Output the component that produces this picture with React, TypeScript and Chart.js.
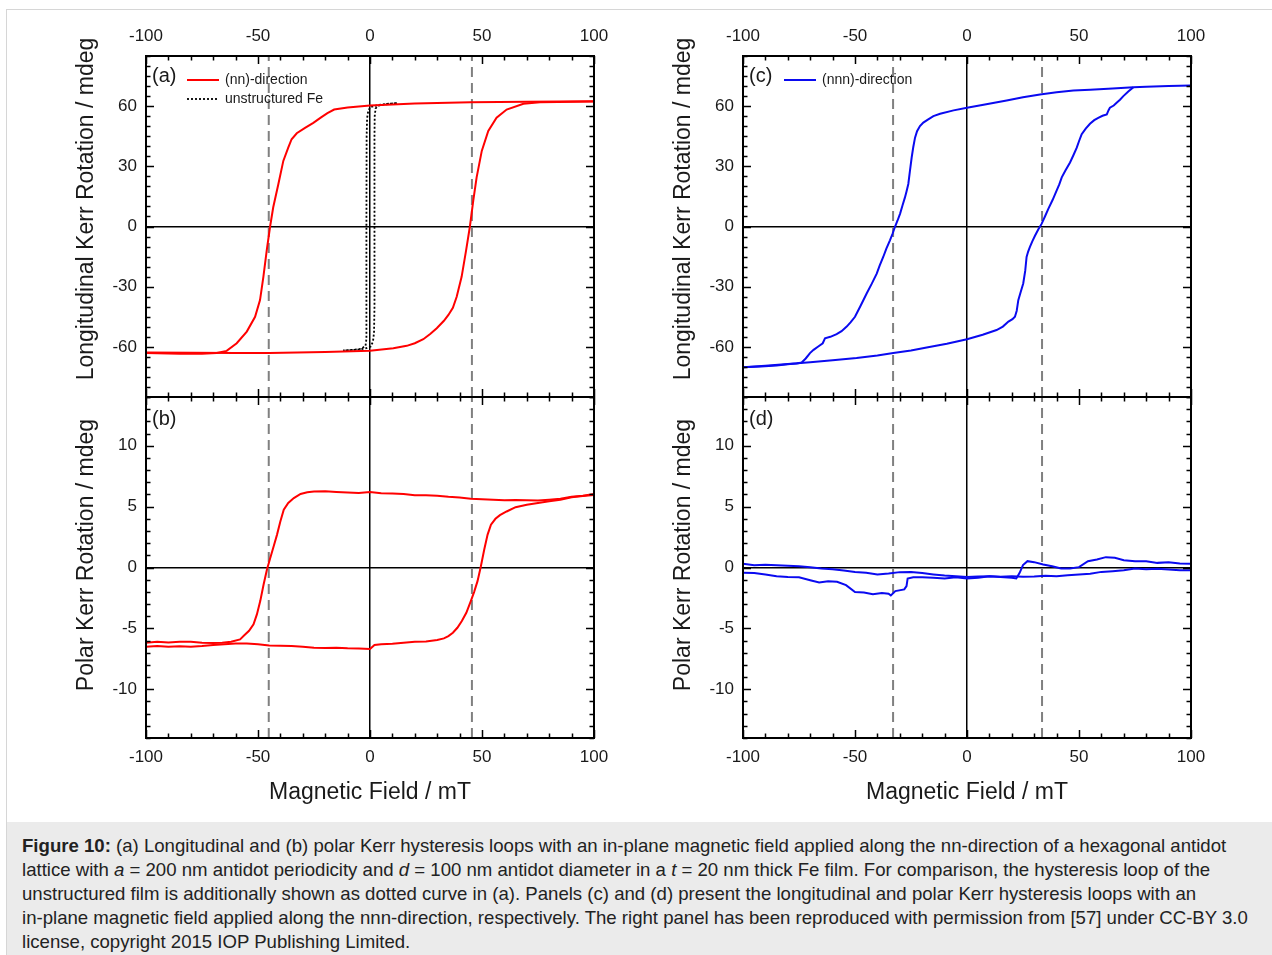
import React, { useEffect, useRef } from 'react';
import { Chart, registerables } from 'chart.js';
Chart.register(...registerables);

const FONT = "'Liberation Sans', Arial, Helvetica, sans-serif";
Chart.defaults.font.family = FONT;

// ---------- Axis / tick settings ----------
const X_MIN = -100;
const X_MAX = 100;
const X_MINOR = 10;
const X_MAJOR = 50;
const LONG_RANGE = [-85, 85];
const LONG_MINOR = 5;
const LONG_MAJOR = 30;
const POLAR_RANGE = [-14, 14];
const POLAR_MINOR = 1;
const POLAR_MAJOR = 5;

// coercive-field guide lines (mT)
const NN_GUIDES = [-45.2, 45.5];
const NNN_GUIDES = [-33.0, 33.5];

// ---------- (a) longitudinal, nn-direction ----------
const A_DOWN_X = [100, 70, 45, 20, 0, -10, -16, -19, -22, -25.3, -29, -32.7, -35, -36.5, -38.7, -40.9, -43.2, -44.6, -46.1, -47.6, -49.1, -51.3, -55, -59.5, -64, -68.5, -75, -85, -100];
const A_DOWN_Y = [62.4, 62.2, 62, 61.3, 60.3, 59.3, 58.3, 56.5, 54.3, 51.7, 49.2, 46.5, 43.5, 39.3, 32.7, 21.2, 9.6, 0, -11.9, -25.1, -36.7, -45, -52.4, -58.2, -62, -63.1, -63.4, -63.4, -63.1];
const A_UP_X = [-100, -80, -60, -45, -20, 0, 10.4, 16.4, 20, 23.8, 27, 29.8, 33, 35, 37, 38.7, 40.9, 42.9, 44.6, 46.1, 47.6, 49.9, 52.8, 56.5, 61, 68.5, 75.9, 100];
const A_UP_Y = [-62.8, -63, -63.1, -63.1, -62.6, -62, -60.7, -59.5, -58.2, -56.2, -53.5, -50.7, -47, -44.1, -40.5, -35, -25.1, -11.9, 0, 12.9, 24.5, 37.7, 47.6, 54.2, 58.3, 61.2, 62, 62.3];
// unstructured Fe (dotted loop)
const FE_X = [12, 7, 3, 1, 0, -0.8, -1.3, -1.5, -1.6, -1.6, -1.6, -2, -4, -8, -12, -6, -2, 0.3, 1.3, 1.8, 2, 2, 2, 2.1, 2.5, 3.5, 6, 9, 12];
const FE_Y = [61.5, 61.1, 60.4, 59.8, 59.3, 57.5, 54, 45, 0, -45, -56, -59.5, -61, -61.5, -61.8, -61.4, -60.8, -59.8, -57.5, -53, -40, 0, 45, 55, 58.8, 60.2, 60.8, 61.2, 61.5];

// ---------- (b) polar, nn-direction ----------
const B_DOWN_X = [100, 95, 90, 85, 80, 75, 70, 65, 60, 55, 50, 45, 40, 35, 30, 25, 20, 15, 10, 5, 0, -5, -10, -15, -20, -25, -28, -31, -34, -36.5, -38.5, -40, -41.5, -43, -44.5, -46, -47.5, -49, -50.5, -52, -54, -56, -58, -62, -66, -70, -75, -80, -85, -90, -95, -100];
const B_DOWN_Y = [6.04, 5.9, 5.8, 5.65, 5.57, 5.5, 5.52, 5.55, 5.53, 5.56, 5.6, 5.65, 5.74, 5.8, 5.9, 5.93, 5.93, 6.04, 6.07, 6.1, 6.2, 6.12, 6.15, 6.2, 6.26, 6.25, 6.18, 6.04, 5.7, 5.3, 4.75, 3.8, 2.7, 1.75, 0.8, -0.16, -1.4, -2.76, -3.85, -4.67, -5.2, -5.55, -5.9, -6.1, -6.17, -6.2, -6.17, -6.1, -6.1, -6.15, -6.1, -6.17];
const B_UP_X = [-100, -95, -90, -85, -80, -75, -70, -65, -60, -55, -50, -45, -40, -35, -30, -25, -20, -15, -10, -5, 0, 2, 5, 10, 15, 20, 25, 30, 33, 35, 37, 39, 41, 43, 45, 46.5, 48, 49.5, 51, 52.5, 54, 56, 58, 61, 65, 70, 75, 80, 85, 90, 95, 100];
const B_UP_Y = [-6.5, -6.45, -6.5, -6.47, -6.5, -6.45, -6.37, -6.3, -6.25, -6.25, -6.3, -6.4, -6.42, -6.45, -6.5, -6.58, -6.6, -6.58, -6.64, -6.66, -6.7, -6.37, -6.3, -6.27, -6.17, -6.1, -6.07, -5.95, -5.82, -5.63, -5.36, -4.95, -4.4, -3.72, -2.76, -2.0, -1.12, 0.1, 1.48, 2.7, 3.52, 4.0, 4.3, 4.6, 4.95, 5.16, 5.3, 5.44, 5.57, 5.76, 5.87, 5.96];

// ---------- (c) longitudinal, nnn-direction ----------
const C_DOWN_X = [100, 90, 80, 74.3, 65, 55, 47.5, 40, 32.6, 25, 17.7, 8, 0, -6, -12, -15, -17.3, -19.5, -21, -22.3, -23.2, -24, -24.7, -25.5, -26.2, -27, -27.7, -28.8, -29.9, -31, -32.1, -33.2, -34.4, -36, -37.4, -39, -40.3, -42.5, -44.8, -47.5, -50, -52, -53.7, -56, -58.2, -61, -63.4, -64.4, -66.4, -68.5, -70.1, -72, -73.8, -76, -79, -85, -92, -100];
const C_DOWN_Y = [70.3, 70.1, 69.7, 69.4, 68.8, 68.2, 67.8, 66.9, 65.8, 64.4, 62.8, 60.8, 59.2, 57.9, 56.2, 55, 53.4, 51.8, 50.1, 47.5, 44.3, 39.5, 34.4, 27.5, 21.2, 17.5, 14.5, 10.5, 6.3, 3, 0, -3.5, -6.9, -11, -15.2, -19.5, -23.5, -28.5, -33.4, -39.5, -45, -47.8, -49.9, -52.2, -53.7, -55, -55.7, -58.2, -59.8, -61.5, -63.1, -65.8, -67.8, -68.3, -68.6, -69.3, -69.8, -70.2];
const C_UP_X = [-100, -90, -80, -70, -60, -49.3, -40, -32.9, -25, -18, -9, 0, 7, 13.2, 16, 18.5, 20.3, 21.4, 22.2, 22.9, 24, 25.1, 26, 26.6, 27.3, 28.1, 29.2, 30.4, 31.8, 33.3, 34.8, 36.3, 38.2, 40, 41.2, 42.3, 44, 46, 47.5, 49, 50, 51.2, 53, 54.9, 56.8, 58.6, 60.5, 62.4, 63.2, 63.8, 65.5, 66.8, 68.3, 69.8, 72, 74.3];
const C_UP_Y = [-70.2, -69.4, -68.6, -67.7, -66.7, -65.6, -64.3, -63.1, -61.8, -60.3, -58.5, -56.2, -54, -51.6, -49.9, -47.4, -46.2, -45, -42, -36.7, -32.5, -28.4, -22, -15.2, -12.5, -10.2, -7.3, -4.5, -1.5, 1.3, 5, 8.8, 13.2, 17.9, 21, 24.5, 28, 31.9, 35.5, 39.3, 42.5, 46, 48.8, 51.2, 53, 54.2, 55.2, 55.9, 58, 59.2, 60.3, 61.7, 63.2, 65, 67.3, 69.4];

// ---------- (d) polar, nnn-direction ----------
const D_UP_X = [-100, -95, -90, -85, -80, -75, -70, -66, -62, -58, -54, -50, -46, -42, -38, -35, -34, -32, -28, -27, -26.5, -24, -20, -15, -10, -5, 0, 5, 10, 15, 20, 22, 23.5, 25, 27, 30, 34, 38, 42, 46, 50, 54, 58, 62, 66, 70, 75, 80, 85, 90, 95, 100];
const D_UP_Y = [-0.44, -0.46, -0.57, -0.71, -0.79, -0.8, -1.04, -1.23, -1.12, -1.17, -1.45, -2.02, -2.05, -2.2, -2.1, -2.15, -2.3, -1.94, -1.8, -1.53, -0.9, -0.8, -0.8, -0.85, -0.9, -0.8, -0.9, -0.85, -0.71, -0.79, -0.85, -0.9, -0.44, 0.2, 0.52, 0.44, 0.25, 0.1, -0.08, -0.08, 0.03, 0.52, 0.66, 0.85, 0.8, 0.6, 0.52, 0.52, 0.38, 0.43, 0.33, 0.3];
const D_DOWN_X = [100, 95, 90, 85, 80, 75, 70, 65, 60, 55, 50, 45, 40, 35, 30, 25, 20, 15, 10, 5, 0, -5, -10, -15, -20, -25, -30, -35, -40, -45, -50, -55, -60, -65, -70, -75, -80, -85, -90, -95, -100];
const D_DOWN_Y = [-0.22, -0.22, -0.16, -0.11, -0.14, -0.08, -0.22, -0.3, -0.36, -0.52, -0.57, -0.63, -0.71, -0.68, -0.74, -0.76, -0.71, -0.76, -0.71, -0.74, -0.79, -0.71, -0.66, -0.57, -0.46, -0.36, -0.38, -0.49, -0.57, -0.44, -0.36, -0.25, -0.14, -0.08, 0.03, 0.1, 0.14, 0.19, 0.22, 0.19, 0.3];

// ---------- text ----------
const LONG_TITLE = 'Longitudinal Kerr Rotation / mdeg';
const POLAR_TITLE = 'Polar Kerr Rotation / mdeg';
const X_TITLE = 'Magnetic Field / mT';

const RED = '#ff0000';
const BLUE = '#0a0af0';
const GUIDE = '#808080';

type Pt = { x: number; y: number };
const pts = (xs: number[], ys: number[]): Pt[] => xs.map((v, i) => ({ x: v, y: ys[i] }));

interface Series { data: Pt[]; color: string; dash?: number[]; width?: number }
interface LegendItem { text: string; color: string; dash?: number[] }
interface PanelCfg {
  left: number; top: number; w: number; h: number;
  area: { left: number; top: number; right: number; bottom: number };
  yRange: number[]; yMinor: number; yMajor: number; yLabelMax: number;
  topLabels: boolean; bottomLabels: boolean; xTitle?: string;
  yTitle: string; yTitleX: number; yTitleY: number;
  label: string; legend: LegendItem[];
  series: Series[]; guides: number[];
}

const COL_W = 615;
const COL2_LEFT = 597;

function makeCfgs(): PanelCfg[] {
  const topArea = { left: 146, top: 56, right: 594, bottom: 397 };
  const botArea = { left: 146, top: 7, right: 594, bottom: 348 };
  const base = (colLeft: number, upper: boolean) => ({
    left: colLeft, top: upper ? 0 : 390, w: COL_W, h: upper ? 400 : 418,
    area: upper ? topArea : botArea,
    yRange: upper ? LONG_RANGE : POLAR_RANGE,
    yMinor: upper ? LONG_MINOR : POLAR_MINOR,
    yMajor: upper ? LONG_MAJOR : POLAR_MAJOR,
    yLabelMax: upper ? 60 : 10,
    topLabels: upper, bottomLabels: !upper,
    xTitle: upper ? undefined : X_TITLE,
    yTitle: upper ? LONG_TITLE : POLAR_TITLE,
    yTitleX: 87, yTitleY: upper ? 209 : 555 - 390,
  });
  return [
    { ...base(0, true), label: '(a)',
      legend: [{ text: '(nn)-direction', color: RED }, { text: 'unstructured Fe', color: '#000', dash: [2, 2] }],
      series: [
        { data: pts(A_DOWN_X, A_DOWN_Y), color: RED },
        { data: pts(A_UP_X, A_UP_Y), color: RED },
        { data: pts(FE_X, FE_Y), color: '#000', dash: [2, 2], width: 1.8 },
      ], guides: NN_GUIDES },
    { ...base(0, false), label: '(b)', legend: [],
      series: [
        { data: pts(B_DOWN_X, B_DOWN_Y), color: RED },
        { data: pts(B_UP_X, B_UP_Y), color: RED },
      ], guides: NN_GUIDES },
    { ...base(COL2_LEFT, true), label: '(c)',
      legend: [{ text: '(nnn)-direction', color: BLUE }],
      series: [
        { data: pts(C_DOWN_X, C_DOWN_Y), color: BLUE },
        { data: pts(C_UP_X, C_UP_Y), color: BLUE },
      ], guides: NNN_GUIDES },
    { ...base(COL2_LEFT, false), label: '(d)', legend: [],
      series: [
        { data: pts(D_DOWN_X, D_DOWN_Y), color: BLUE },
        { data: pts(D_UP_X, D_UP_Y), color: BLUE },
      ], guides: NNN_GUIDES },
  ];
}

const isMult = (v: number, m: number) => Math.abs(v / m - Math.round(v / m)) < 1e-6;

function framePlugin(cfg: PanelCfg) {
  return {
    id: 'frame' + cfg.label,
    afterDraw(chart: any) {
      const { ctx, chartArea: a } = chart;
      const xs = chart.scales.x;
      const ys = chart.scales.y;
      ctx.save();
      ctx.strokeStyle = '#000';
      ctx.lineWidth = 1.5;
      ctx.setLineDash([]);
      ctx.beginPath();
      xs.ticks.forEach((t: any) => {
        const p = Math.round(xs.getPixelForValue(t.value)) + 0.5;
        const L = isMult(t.value, X_MAJOR) ? 8 : 4.5;
        ctx.moveTo(p, a.top); ctx.lineTo(p, a.top + L);
        ctx.moveTo(p, a.bottom); ctx.lineTo(p, a.bottom - L);
      });
      ys.ticks.forEach((t: any) => {
        const p = Math.round(ys.getPixelForValue(t.value)) + 0.5;
        const L = isMult(t.value, cfg.yMajor) ? 8 : 4.5;
        ctx.moveTo(a.left, p); ctx.lineTo(a.left + L, p);
        ctx.moveTo(a.right, p); ctx.lineTo(a.right - L, p);
      });
      ctx.stroke();
      ctx.lineWidth = 2;
      ctx.strokeRect(a.left, a.top, a.right - a.left, a.bottom - a.top);

      // panel label
      ctx.fillStyle = '#1a1a1a';
      ctx.textBaseline = 'middle';
      ctx.textAlign = 'left';
      ctx.font = `20px ${FONT}`;
      const upper = cfg.legend.length > 0;
      ctx.fillText(cfg.label, a.left + 6, a.top + (upper ? 20.5 : 22));

      // legend
      ctx.font = `14px ${FONT}`;
      cfg.legend.forEach((it, i) => {
        const y = a.top + 24 + i * 19;
        ctx.beginPath();
        ctx.strokeStyle = it.color;
        ctx.lineWidth = it.dash ? 1.8 : 2;
        ctx.setLineDash(it.dash || []);
        ctx.moveTo(a.left + 41, y); ctx.lineTo(a.left + 73, y);
        ctx.stroke();
        ctx.setLineDash([]);
        ctx.fillText(it.text, a.left + 79, y);
      });

      // y-axis title
      ctx.save();
      ctx.translate(cfg.yTitleX, cfg.yTitleY);
      ctx.rotate(-Math.PI / 2);
      ctx.textAlign = 'center';
      ctx.textBaseline = 'middle';
      ctx.font = `23px ${FONT}`;
      ctx.fillStyle = '#1a1a1a';
      ctx.fillText(cfg.yTitle, 0, 0);
      ctx.restore();
      ctx.restore();
    },
  };
}

const noPad = (s: any) => {
  s.paddingLeft = 0; s.paddingRight = 0; s.paddingTop = 0; s.paddingBottom = 0;
};

function buildConfig(cfg: PanelCfg): any {
  const zeroColor = (c: any) => (c.tick && Math.abs(c.tick.value) < 1e-9 ? '#000' : 'rgba(0,0,0,0)');
  const tickFont = { family: FONT, size: 17 };
  const datasets: any[] = cfg.series.map((s) => ({
    data: s.data,
    borderColor: s.color,
    borderWidth: s.width || 2,
    borderDash: s.dash || [],
    pointRadius: 0,
    fill: false,
    tension: 0,
    order: 1,
  }));
  cfg.guides.forEach((g) => {
    datasets.push({
      data: [{ x: g, y: cfg.yRange[0] }, { x: g, y: cfg.yRange[1] }],
      borderColor: GUIDE,
      borderWidth: 2,
      borderDash: [10, 6],
      pointRadius: 0,
      fill: false,
      order: 5,
    });
  });
  return {
    type: 'line',
    data: { datasets },
    options: {
      animation: false,
      responsive: false,
      maintainAspectRatio: false,
      layout: { padding: 0 },
      plugins: { legend: { display: false }, tooltip: { enabled: false } },
      scales: {
        x: {
          type: 'linear', position: 'bottom', min: X_MIN, max: X_MAX,
          ticks: {
            stepSize: X_MINOR, autoSkip: false, maxRotation: 0, display: cfg.bottomLabels,
            padding: 9.5, color: '#1a1a1a', font: tickFont,
            callback: (v: number) => (isMult(v, X_MAJOR) ? String(Math.round(v)) : ''),
          },
          grid: { drawTicks: false, color: zeroColor, lineWidth: 1.5 },
          border: { display: false },
          title: cfg.xTitle
            ? { display: true, text: cfg.xTitle, color: '#1a1a1a', font: { family: FONT, size: 23 }, padding: { top: 0, bottom: 2 } }
            : { display: false },
          afterFit: (s: any) => { s.height = cfg.h - cfg.area.bottom; noPad(s); },
        },
        x2: {
          type: 'linear', position: 'top', min: X_MIN, max: X_MAX,
          ticks: {
            stepSize: X_MINOR, autoSkip: false, maxRotation: 0, display: cfg.topLabels,
            padding: 9, color: '#1a1a1a', font: tickFont,
            callback: (v: number) => (isMult(v, X_MAJOR) ? String(Math.round(v)) : ''),
          },
          grid: { display: false, drawTicks: false },
          border: { display: false },
          afterFit: (s: any) => { s.height = cfg.area.top; noPad(s); },
        },
        y: {
          type: 'linear', position: 'left', min: cfg.yRange[0], max: cfg.yRange[1],
          ticks: {
            stepSize: cfg.yMinor, autoSkip: false, padding: 9, color: '#1a1a1a', font: tickFont,
            callback: (v: number) => (isMult(v, cfg.yMajor) && Math.abs(v) <= cfg.yLabelMax ? String(Math.round(v)) : ''),
          },
          grid: { drawTicks: false, color: zeroColor, lineWidth: 1.5 },
          border: { display: false },
          afterFit: (s: any) => { s.width = cfg.area.left; noPad(s); },
        },
        y2: {
          type: 'linear', position: 'right', min: cfg.yRange[0], max: cfg.yRange[1],
          ticks: { display: false },
          grid: { display: false, drawTicks: false },
          border: { display: false },
          afterFit: (s: any) => { s.width = cfg.w - cfg.area.right; noPad(s); },
        },
      },
    },
    plugins: [framePlugin(cfg)],
  };
}

function Panel({ cfg }: { cfg: PanelCfg }) {
  const ref = useRef<HTMLCanvasElement>(null);
  useEffect(() => {
    if (!ref.current) return;
    const chart = new Chart(ref.current, buildConfig(cfg));
    return () => chart.destroy();
  }, []);
  return (
    <canvas
      ref={ref}
      width={cfg.w}
      height={cfg.h}
      style={{ position: 'absolute', left: cfg.left, top: cfg.top, width: cfg.w, height: cfg.h }}
    />
  );
}

export default function App() {
  const cfgs = makeCfgs();
  return (
    <div style={{ position: 'absolute', left: 0, top: 0, width: 1272, height: 955, background: '#fff', overflow: 'hidden', fontFamily: FONT }}>
      <div style={{ position: 'absolute', left: 6, top: 9, width: 1266, height: 946, borderTop: '1px solid #d6d6d6', borderLeft: '1px solid #d6d6d6' }} />
      {cfgs.map((c) => <Panel key={c.label} cfg={c} />)}
      <div style={{ position: 'absolute', left: 7, top: 822, width: 1265, height: 133, background: '#ebebeb', color: '#222', fontSize: 18.6, lineHeight: '24px', padding: '12px 0 0 15px', boxSizing: 'border-box', whiteSpace: 'nowrap' }}>
        <div><b>Figure 10:</b> (a) Longitudinal and (b) polar Kerr hysteresis loops with an in-plane magnetic field applied along the nn-direction of a hexagonal antidot</div>
        <div>lattice with <i>a</i> = 200 nm antidot periodicity and <i>d</i> = 100 nm antidot diameter in a <i>t</i> = 20 nm thick Fe film. For comparison, the hysteresis loop of the</div>
        <div>unstructured film is additionally shown as dotted curve in (a). Panels (c) and (d) present the longitudinal and polar Kerr hysteresis loops with an</div>
        <div>in-plane magnetic field applied along the nnn-direction, respectively. The right panel has been reproduced with permission from [57] under CC-BY 3.0</div>
        <div>license, copyright 2015 IOP Publishing Limited.</div>
      </div>
    </div>
  );
}
